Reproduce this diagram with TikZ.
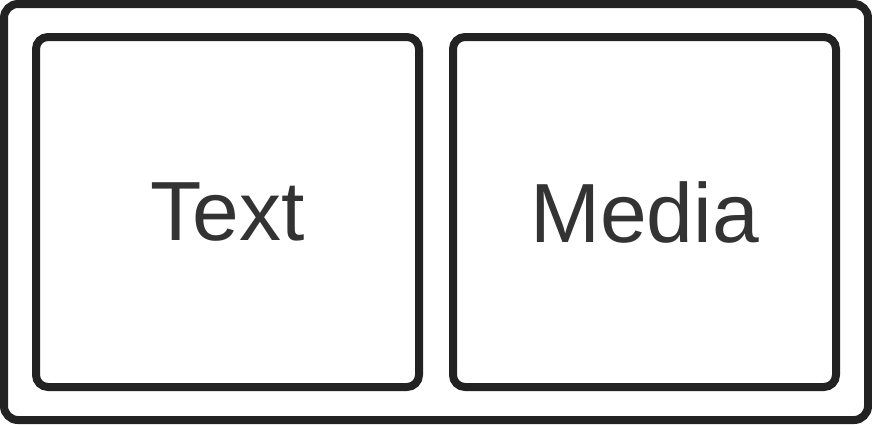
\documentclass[tikz,border=0pt]{standalone}
\usepackage{fontspec}
\setmainfont{Liberation Sans}
\usetikzlibrary{positioning}
\definecolor{cLine}{HTML}{222222}
\definecolor{cText}{HTML}{333333}

\begin{document}
\begin{tikzpicture}[
  x=1pt, y=-1pt,
  node distance=26pt,
  frame/.style={rectangle, rounded corners=14pt, draw=cLine, line width=8pt,
                minimum width=864pt, minimum height=416pt, inner sep=0pt},
  panel/.style={rectangle, rounded corners=12pt, draw=cLine, line width=8pt,
                minimum width=383pt, minimum height=350pt, inner sep=0pt,
                text=cText, font=\fontsize{84}{92}\selectfont},
]
\useasboundingbox (0,0) rectangle (872,424);

\node[frame] (outer) at (436,212) {};

\node[panel] (text) at (227.5,212) {Text};
\node[panel, right=of text] (media) {Media};

\end{tikzpicture}
\end{document}
